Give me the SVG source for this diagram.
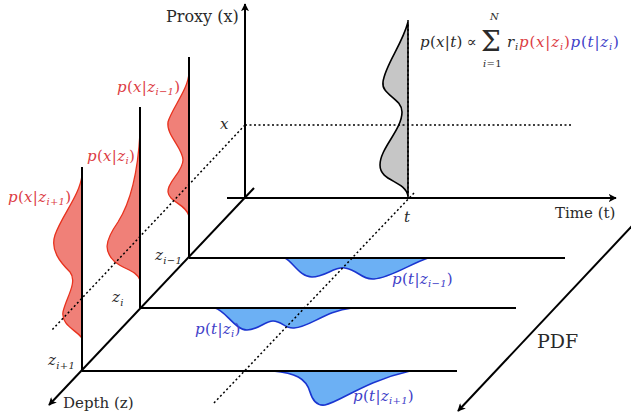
<svg xmlns="http://www.w3.org/2000/svg" width="631" height="416" viewBox="0 0 631 416">
<style>
.ax{stroke:#000;stroke-width:2;fill:none}
.ln{stroke:#000;stroke-width:2;fill:none}
.dot{stroke:#000;stroke-width:1.5;stroke-dasharray:2 2.5;fill:none}
.red{fill:#f08078;stroke:#e8321e;stroke-width:1.3}
.blue{fill:#6cb0f4;stroke:#1a35d0;stroke-width:1.6}
.gray{fill:#c6c6c6;stroke:#000;stroke-width:1.6}
.t{fill:#2a2a2a}
.m{font-style:italic;font-size:15px;letter-spacing:0.3px}
.up{font-style:normal}
.rt{fill:#dc3c44}
.bt{fill:#4040c8}
.sub{font-size:10px}
</style>
<defs>
<marker id="ah" viewBox="0 0 10 10" refX="9" refY="5" markerWidth="8" markerHeight="8" markerUnits="userSpaceOnUse" orient="auto">
<path d="M0,0 L10,5 L0,10 L2.5,5 Z" fill="#000"/>
</marker>
</defs>

<g id="dist-red-zim1"><path class="red" d="M189,73 C188,90 172,108 168,122 C166,135 183,148 183,160 C183,172 167,182 168,192 C169,202 186,204 189,216 Z"/></g>
<g id="dist-red-zi"><path class="red" d="M140,133 C138,170 132,200 118,222 C104,242 104,252 115,262 C125,270 136,270 140,280 Z"/></g>
<g id="dist-red-zip1"><path class="red" d="M82,175 C80,195 62,215 55,235 C50,250 60,262 70,272 C78,282 66,298 63,312 C61,325 76,330 82,338 Z"/></g>
<g id="dist-blue-zim1"><path class="blue" d="M285,258 C293,262 300,277 312,277 C325,277 335,266 345,268 C358,270 362,280 374,279 C390,278 410,264 428,258 Z"/></g>
<g id="dist-blue-zi"><path class="blue" d="M215,308 C225,310 235,330 247,330 C258,330 265,321 273,321 C282,321 285,329 294,328 C310,327 325,311 352,308 Z"/></g>
<g id="dist-blue-zip1"><path class="blue" d="M273,371 C295,373 306,378 310,392 C313,402 318,406 325,405 C340,402 365,381 410,371 Z"/></g>
<g id="dist-gray"><path class="gray" d="M408,22 C402,45 385,65 383,82 C381,95 402,98 402,112 C402,130 380,148 380,165 C380,182 405,180 408,196 Z"/></g>

<g id="connectors">
<line class="dot" x1="245" y1="125" x2="573" y2="125"/>
<line class="dot" x1="245" y1="125" x2="52" y2="330"/>
<line class="dot" x1="408" y1="20" x2="408" y2="197"/>
<line class="dot" x1="414" y1="193" x2="213" y2="404"/>
<line class="ln" x1="189" y1="258" x2="189" y2="57"/>
<line class="ln" x1="140" y1="308" x2="140" y2="107"/>
<line class="ln" x1="82" y1="371" x2="82" y2="167"/>
<line class="ln" x1="189" y1="258" x2="565" y2="258"/>
<line class="ln" x1="140" y1="308" x2="516" y2="308"/>
<line class="ln" x1="82" y1="371" x2="457" y2="371"/>
<line class="ax" x1="245" y1="198" x2="245" y2="4" marker-end="url(#ah)"/>
<line class="ax" x1="227" y1="198" x2="616" y2="198" marker-end="url(#ah)"/>
<line class="ax" x1="254" y1="188" x2="49" y2="405" marker-end="url(#ah)"/>
<line class="ax" x1="632" y1="226" x2="458" y2="411" marker-end="url(#ah)"/>
</g>

<g id="labels" font-family="DejaVu Serif, serif">
<text class="t" x="166" y="22" font-size="16">Proxy (x)</text>
<text class="t" x="555" y="218" font-size="15">Time (t)</text>
<text class="t" x="63" y="408" font-size="15">Depth (z)</text>
<text class="t" x="537" y="348" font-size="19">PDF</text>
<text class="m t" x="220" y="129">x</text>
<text class="m t" x="404" y="222">t</text>
<text class="m t" x="155" y="260">z<tspan class="sub" dy="4">i−1</tspan></text>
<text class="m t" x="112" y="302">z<tspan class="sub" dy="4">i</tspan></text>
<text class="m t" x="48" y="365">z<tspan class="sub" dy="4">i+1</tspan></text>

<text class="m rt" x="117" y="92">p<tspan class="up">(</tspan>x<tspan class="up">|</tspan>z<tspan class="sub" dy="3">i−1</tspan><tspan class="up" dy="-3">)</tspan></text>
<text class="m rt" x="87" y="161">p<tspan class="up">(</tspan>x<tspan class="up">|</tspan>z<tspan class="sub" dy="3">i</tspan><tspan class="up" dy="-3">)</tspan></text>
<text class="m rt" x="8" y="202">p<tspan class="up">(</tspan>x<tspan class="up">|</tspan>z<tspan class="sub" dy="3">i+1</tspan><tspan class="up" dy="-3">)</tspan></text>

<text class="m bt" x="392" y="284">p<tspan class="up">(</tspan>t<tspan class="up">|</tspan>z<tspan class="sub" dy="3">i−1</tspan><tspan class="up" dy="-3">)</tspan></text>
<text class="m bt" x="195" y="334">p<tspan class="up">(</tspan>t<tspan class="up">|</tspan>z<tspan class="sub" dy="3">i</tspan><tspan class="up" dy="-3">)</tspan></text>
<text class="m bt" x="353" y="401">p<tspan class="up">(</tspan>t<tspan class="up">|</tspan>z<tspan class="sub" dy="3">i+1</tspan><tspan class="up" dy="-3">)</tspan></text>

<g id="formula">
<text class="m t" x="420" y="47">p<tspan class="up">(</tspan>x<tspan class="up">|</tspan>t<tspan class="up">)</tspan><tspan class="up" dx="4">∝</tspan></text>
<text class="t" x="481" y="51" font-size="28">Σ</text>
<text class="m t" x="490" y="20" style="font-size:10px">N</text>
<text class="m t" x="483" y="67" style="font-size:10px">i<tspan class="up">=1</tspan></text>
<text class="m t" x="507" y="47" style="letter-spacing:0.8px">r<tspan class="sub" dy="3">i</tspan><tspan class="rt" dy="-3">p<tspan class="up">(</tspan>x<tspan class="up">|</tspan>z<tspan class="sub" dy="3">i</tspan><tspan class="up" dy="-3">)</tspan></tspan><tspan class="bt">p<tspan class="up">(</tspan>t<tspan class="up">|</tspan>z<tspan class="sub" dy="3">i</tspan><tspan class="up" dy="-3">)</tspan></tspan></text>
</g>
</g>
</svg>
